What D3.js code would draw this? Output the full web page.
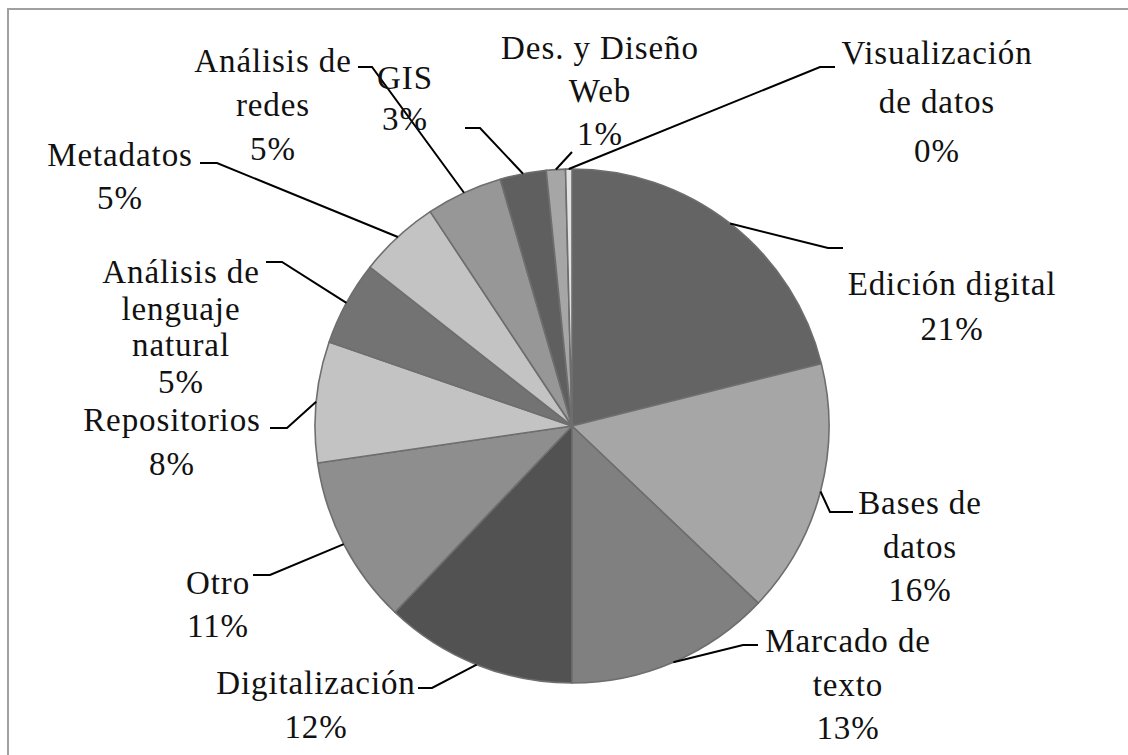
<!DOCTYPE html>
<html>
<head>
<meta charset="utf-8">
<script src="https://cdn.jsdelivr.net/npm/d3@7"></script>
<style>
  html, body { margin: 0; padding: 0; background: #fff; }
  svg { display: block; }
</style>
</head>
<body>
<div id="chart"></div>
<script>
// data, clockwise from 12 o'clock
const categories = ['Edición digital', 'Bases de datos', 'Marcado de texto', 'Digitalización', 'Otro',
	'Repositorios', 'Análisis de lenguaje natural', 'Metadatos', 'Análisis de redes', 'GIS',
	'Des. y Diseño Web', 'Visualización de datos']
const values = [21.1, 16.0, 12.9, 12.1, 10.6, 7.6, 5.3, 5.1, 4.8, 2.9, 1.2, 0.4]
const labelLines = [['Edición digital'], ['Bases de', 'datos'], ['Marcado de', 'texto'], ['Digitalización'], ['Otro'],
	['Repositorios'], ['Análisis de', 'lenguaje', 'natural'], ['Metadatos'], ['Análisis de', 'redes'], ['GIS'],
	['Des. y Diseño', 'Web'], ['Visualización', 'de datos']]
const fills = ['#646464', '#a6a6a6', '#808080', '#525252', '#8e8e8e', '#c3c3c3',
	'#737373', '#c3c3c3', '#979797', '#5f5f5f', '#a6a6a6', '#e2e2e2']

// label placement: [centre x, first baseline, line height], leader elbow and end
const labelPos = [[952, 295, 45], [920, 514, 43.5], [848, 652, 43.5], [316, 694, 44], [218, 594, 43],
	[172, 431, 44], [181, 283, 36.5], [120, 166, 43], [273, 72, 44], [405, 89, 41], [600, 59, 43], [937, 64, 49]]
const leaderPts = [[[828, 248], [843, 248]], [[830, 512], [853, 512]], [[743, 645], [758, 645]],
	[[432, 688], [418, 688]], [[270, 575], [253, 575]], [[287, 428], [270, 428]],
	[[282, 262], [266, 262]], [[217, 163], [200, 163]], [[372, 67], [358, 67]],
	[[480, 128], [465, 128]], [[572, 152]], [[820, 67], [835, 67]]]

const width = 1128, height = 755
const cx = 572, cy = 426, radius = 257

const svg = d3.select('#chart')
	.append('svg')
	.attr('width', width)
	.attr('height', height)

svg.append('rect')
	.attr('x', 8)
	.attr('y', 9)
	.attr('width', width + 20)
	.attr('height', height + 20)
	.attr('fill', '#fff')
	.attr('stroke', '#a0a0a0')
	.attr('stroke-width', 2)

const pie = d3.pie().sort(null).value(d => d)
const slices = pie(values)

const arc = d3.arc().innerRadius(0).outerRadius(radius)
const edge = d3.arc().innerRadius(radius).outerRadius(radius)

const chart = svg.append('g')
	.attr('transform', `translate(${cx},${cy})`)

chart.selectAll('path.slice')
	.data(slices)
	.enter()
		.append('path')
			.attr('class', 'slice')
			.attr('fill', (d, i) => fills[i])
			.attr('stroke', '#6e6e6e')
			.attr('stroke-width', 1.6)
			.attr('stroke-linejoin', 'round')
			.attr('d', arc)

// leader lines
const line = d3.line()
svg.selectAll('path.leader')
	.data(slices)
	.enter()
		.append('path')
			.attr('class', 'leader')
			.attr('fill', 'none')
			.attr('stroke', '#000')
			.attr('stroke-width', 2)
			.attr('d', (d, i) => {
				const p = edge.centroid(d)
				return line([[p[0] + cx, p[1] + cy]].concat(leaderPts[i]))
			})

// labels
const labels = svg.selectAll('text.label')
	.data(slices)
	.enter()
		.append('text')
			.attr('class', 'label')
			.attr('text-anchor', 'middle')
			.attr('font-family', '"Liberation Serif", "Times New Roman", serif')
			.attr('font-size', 33)
			.attr('letter-spacing', 0.9)
			.attr('fill', '#111')

labels.each(function(d, i) {
	const lines = labelLines[i].concat([Math.round(values[i]) + '%'])
	const [x, y, lh] = labelPos[i]
	d3.select(this).selectAll('tspan')
		.data(lines)
		.enter()
			.append('tspan')
				.attr('x', x)
				.attr('y', (t, j) => y + j * lh)
				.text(t => t)
})
</script>
</body>
</html>
